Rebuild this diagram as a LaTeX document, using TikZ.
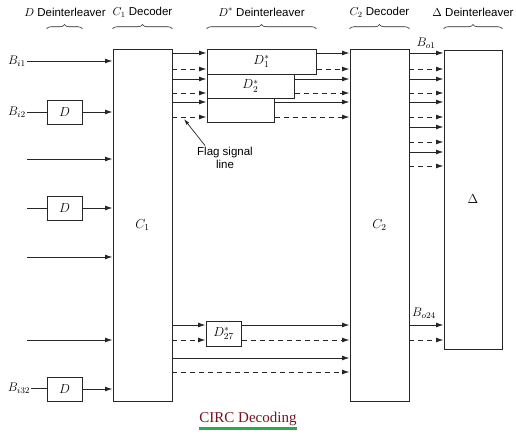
\documentclass[tikz,border=0pt]{standalone}
\usepackage{fix-cm}
\usepackage{fontspec}
\setmainfont{Liberation Sans}
\newfontfamily\capfont{Liberation Serif}
\usepackage{tikz}
\usetikzlibrary{arrows.meta,calc,decorations.pathreplacing}
\definecolor{linegray}{HTML}{262626}
\definecolor{capred}{HTML}{7A0F22}
\definecolor{capgreen}{HTML}{2EA84E}
\tikzset{
  line/.style={draw=linegray, -{Latex[length=7.5pt,width=5pt]}, line width=1pt},
  dashedline/.style={line, dash pattern=on 5pt off 4pt},
  plain/.style={draw=linegray, line width=1pt},
  box/.style={
    draw=linegray,
    line width=1pt,
    inner sep=0pt,
    font=\fontsize{13}{15}\selectfont
  },
  brace/.style={draw=linegray, line width=0.6pt, decorate, decoration={brace, amplitude=4.5pt}},
  group/.style={font=\fontsize{11.5}{13}\selectfont, inner sep=0pt},
  tag/.style={font=\fontsize{12.5}{13}\selectfont, inner sep=1pt},
  flagtext/.style={font=\fontsize{11.5}{13}\selectfont, inner sep=1pt, align=center},
  caption/.style={font=\capfont\fontsize{15}{17}\selectfont, text=capred, inner sep=0pt}
}

\begin{document}
\begin{tikzpicture}[x=1pt,y=-1pt]
  \path[use as bounding box] (0,0) rectangle (516,439);

  % decoders and deinterleavers
  \node[box, minimum width=59pt, minimum height=352pt] (c1) at (142.5,225) {$C_1$};
  \node[box, minimum width=59pt, minimum height=352pt] (c2) at (379.5,225) {$C_2$};
  \node[box, minimum width=58pt, minimum height=299pt] (dl) at (473,199.5) {$\Delta$};

  \node[box, minimum width=35pt, minimum height=24pt] (d1) at (64.5,112) {$D$};
  \node[box, minimum width=35pt, minimum height=24pt] (d2) at (64.5,208) {$D$};
  \node[box, minimum width=35pt, minimum height=24pt] (d3) at (64.5,389) {$D$};

  \node[box, minimum width=109pt, minimum height=25pt] (ds1) at (261.5,61.5) {$D_1^*$};
  \node[box, minimum width=87pt, minimum height=24pt] (ds2) at (250.5,86) {$D_2^*$};
  \node[box, minimum width=67pt, minimum height=24pt] (ds3) at (240.5,110) {};
  \node[box, minimum width=35pt, minimum height=25pt] (ds27) at (223.5,333.5) {$D_{27}^*$};

  % group headings
  \coordinate (bracey) at (0,29);
  \node[group] (gd) at (65,12) {$D$ Deinterleaver};
  \node[group] (gc1) at (142.5,12) {$C_1$ Decoder};
  \node[group] (gds) at (261.5,12) {$D^*$ Deinterleaver};
  \node[group] (gc2) at (379.5,12) {$C_2$ Decoder};
  \node[group] (gdl) at (473,12) {$\Delta$ Deinterleaver};
  \draw[brace] (d1.west |- bracey) -- (d1.east |- bracey);
  \draw[brace] (c1.west |- bracey) -- (c1.east |- bracey);
  \draw[brace] (ds1.west |- bracey) -- (ds1.east |- bracey);
  \draw[brace] (c2.west |- bracey) -- (c2.east |- bracey);
  \draw[brace] (dl.west |- bracey) -- (dl.east |- bracey);

  % inputs
  \node[tag] (bi1) at (17,61) {$B_{i1}$};
  \node[tag] (bi2) at (17,112) {$B_{i2}$};
  \node[tag] (bi32) at (19,388) {$B_{i32}$};
  \coordinate (in3) at (27,159);
  \coordinate (in4) at (27,208);
  \coordinate (in5) at (27,257);
  \coordinate (in6) at (27,340);

  \draw[line] (bi1.east) -- (bi1.east -| c1.west);
  \draw[plain] (bi2.east) -- (d1.west);
  \draw[line] (d1.east) -- (d1.east -| c1.west);
  \draw[line] (in3) -- (in3 -| c1.west);
  \draw[plain] (in4) -- (d2.west);
  \draw[line] (d2.east) -- (d2.east -| c1.west);
  \draw[line] (in5) -- (in5 -| c1.west);
  \draw[line] (in6) -- (in6 -| c1.west);
  \draw[plain] (bi32.east) -- (bi32.east -| d3.west);
  \draw[line] (d3.east) -- (d3.east -| c1.west);

  % C1 outputs
  \coordinate (p1) at (172,53);
  \coordinate (p2) at (172,69);
  \coordinate (p3) at (172,79);
  \coordinate (p4) at (172,93);
  \coordinate (p5) at (172,102);
  \coordinate (p6) at (172,117);
  \coordinate (p7) at (172,325);
  \coordinate (p8) at (172,340);
  \coordinate (p9) at (172,358);
  \coordinate (p10) at (172,372);

  \draw[line] (p1) -- (p1 -| ds1.west);
  \draw[dashedline] (p2) -- (p2 -| ds1.west);
  \draw[line] (p3) -- (p3 -| ds2.west);
  \draw[dashedline] (p4) -- (p4 -| ds2.west);
  \draw[line] (p5) -- (p5 -| ds3.west);
  \draw[dashedline] (p6) -- (p6 -| ds3.west);
  \draw[line] (p7) -- (p7 -| ds27.west);
  \draw[dashedline] (p8) -- (p8 -| ds27.west);
  \draw[line] (p9) -- (p9 -| c2.west);
  \draw[dashedline] (p10) -- (p10 -| c2.west);

  \draw[line] (p1 -| ds1.east) -- (p1 -| c2.west);
  \draw[dashedline] (p2 -| ds1.east) -- (p2 -| c2.west);
  \draw[line] (p3 -| ds2.east) -- (p3 -| c2.west);
  \draw[dashedline] (p4 -| ds2.east) -- (p4 -| c2.west);
  \draw[line] (p5 -| ds3.east) -- (p5 -| c2.west);
  \draw[dashedline] (p6 -| ds3.east) -- (p6 -| c2.west);
  \draw[line] (p7 -| ds27.east) -- (p7 -| c2.west);
  \draw[dashedline] (p8 -| ds27.east) -- (p8 -| c2.west);

  % flag signal
  \node[flagtext] (flag) at (225,157.5) {Flag signal\\line};
  \coordinate (flagtip) at (184,119);
  \draw[draw=linegray, line width=0.7pt, -{Latex[length=6pt,width=3.6pt]}] ([xshift=-20pt]flag.north) -- (flagtip);

  % C2 outputs
  \coordinate (q1) at (409,53);
  \coordinate (q2) at (409,69);
  \coordinate (q3) at (409,79);
  \coordinate (q4) at (409,93);
  \coordinate (q5) at (409,102);
  \coordinate (q6) at (409,117);
  \coordinate (q7) at (409,127);
  \coordinate (q8) at (409,142);
  \coordinate (q9) at (409,152);
  \coordinate (q10) at (409,166);
  \coordinate (q11) at (409,325);
  \coordinate (q12) at (409,340);

  \draw[line] (q1) -- (q1 -| dl.west);
  \draw[dashedline] (q2) -- (q2 -| dl.west);
  \draw[line] (q3) -- (q3 -| dl.west);
  \draw[dashedline] (q4) -- (q4 -| dl.west);
  \draw[line] (q5) -- (q5 -| dl.west);
  \draw[dashedline] (q6) -- (q6 -| dl.west);
  \draw[line] (q7) -- (q7 -| dl.west);
  \draw[dashedline] (q8) -- (q8 -| dl.west);
  \draw[line] (q9) -- (q9 -| dl.west);
  \draw[dashedline] (q10) -- (q10 -| dl.west);
  \draw[line] (q11) -- (q11 -| dl.west);
  \draw[dashedline] (q12) -- (q12 -| dl.west);

  \node[tag] (bo1) at (426,43) {$B_{o1}$};
  \node[tag] (bo24) at (424,313) {$B_{o24}$};

  % caption
  \node[caption, anchor=base] (cap) at (248,422) {CIRC Decoding};
  \draw[draw=capgreen, line width=3pt] ([yshift=-6pt]cap.base west) -- ([yshift=-6pt]cap.base east);
\end{tikzpicture}
\end{document}
